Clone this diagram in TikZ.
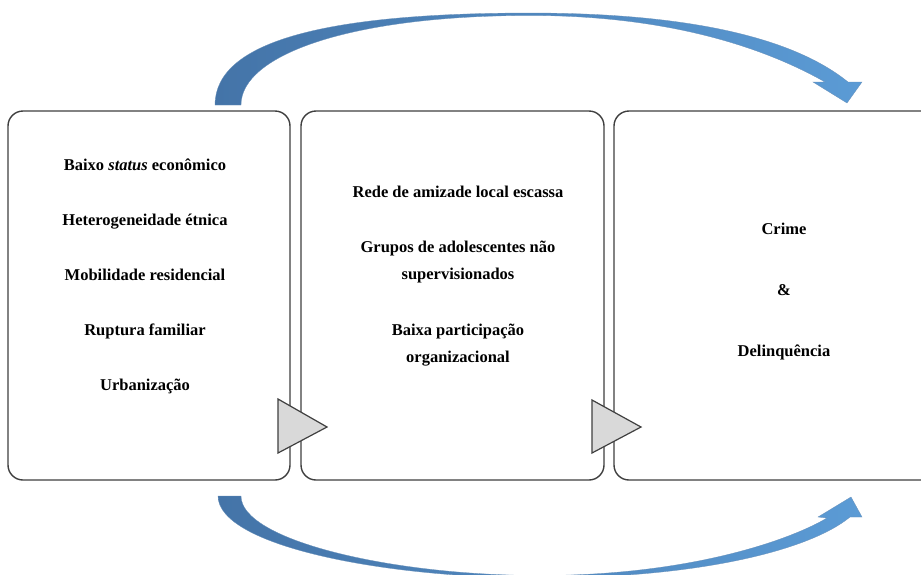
\documentclass[tikz,border=0pt]{standalone}
\usepackage{fontspec}
\setmainfont{Liberation Serif}
\definecolor{boxgray}{HTML}{3F3F3F}
\definecolor{trigray}{HTML}{404040}
\definecolor{trifill}{HTML}{D9D9D9}
\definecolor{adark}{HTML}{4474A8}
\definecolor{alight}{HTML}{5B9BD5}
\begin{document}
\begin{tikzpicture}[x=1pt,y=-1pt,
  box/.style={draw=boxgray, line width=1.4pt, rounded corners=15pt, inner sep=0pt, outer sep=0pt, fill=white, minimum height=369pt},
  lbl/.style={font=\fontsize{16.5}{20}\selectfont\bfseries, inner sep=0pt, anchor=base},
  tri/.style={draw=trigray, fill=trifill, line width=1.2pt, line join=miter},
  bigarrow/.style={left color=adark, right color=alight, draw=adark!80!white, line width=0.3pt}]
\useasboundingbox (0,0) rectangle (921,574);
\clip (0,0) rectangle (921,574);
% boxes
\node[box, minimum width=282pt] (b1) at (149,295.5) {};
\node[box, minimum width=303pt] (b2) at (452.5,295.5) {};
\node[box, minimum width=330pt] (b3) at (779,295.5) {};
% triangles
\draw[tri] (278,399) -- (278,453) -- (327,427) -- cycle;
\draw[tri] (592,400) -- (592,453) -- (641,427) -- cycle;
% texts box 1
\node[lbl] (t11) at (145,170) {Baixo \textit{status} econômico};
\node[lbl] (t12) at (145,225) {Heterogeneidade étnica};
\node[lbl] (t13) at (145,280) {Mobilidade residencial};
\node[lbl] (t14) at (145,335) {Ruptura familiar};
\node[lbl] (t15) at (145,390) {Urbanização};
% texts box 2
\node[lbl] (t21) at (458,197.5) {Rede de amizade local escassa};
\node[lbl] (t22) at (458,252.5) {Grupos de adolescentes não};
\node[lbl] (t23) at (458,279.5) {supervisionados};
\node[lbl] (t24) at (458,335.5) {Baixa participação};
\node[lbl] (t25) at (458,362.5) {organizacional};
% texts box 3
\node[lbl] (t31) at (784,234.5) {Crime};
\node[lbl] (t32) at (784,295.5) {\&};
\node[lbl] (t33) at (784,356.5) {Delinquência};
% curved arrows
\shade[bigarrow]
 (215,105) .. controls (215,40) and (330,13) .. (530,13)
 .. controls (680,13) and (790,35) .. (848,82)
 -- (862,82) -- (847,103) -- (813,82) -- (825,82)
 .. controls (765,48) and (670,15.5) .. (530,15.5)
 .. controls (350,15.5) and (241,55) .. (241,105) -- cycle;
\shade[bigarrow]
 (218,496) .. controls (218,545) and (380,578) .. (540,578)
 .. controls (700,578) and (810,550) .. (850,517)
 -- (862,517) -- (851,497) -- (818,517) -- (827,518)
 .. controls (790,540) and (690,575.5) .. (540,575.5)
 .. controls (390,575.5) and (241,540) .. (241,496) -- cycle;
\end{tikzpicture}
\end{document}
